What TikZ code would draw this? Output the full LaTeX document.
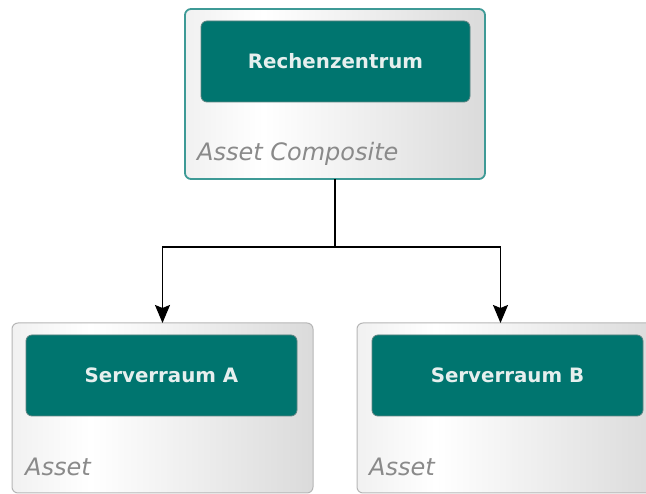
\documentclass[tikz,border=0pt]{standalone}
\usepackage{fontspec}
\setmainfont{DejaVu Sans}
\usetikzlibrary{arrows.meta}
\definecolor{tealfill}{HTML}{00756F}
\definecolor{tealline}{HTML}{3E9A96}
\definecolor{innerline}{HTML}{5E8482}
\definecolor{greyline}{HTML}{B6B6B6}
\definecolor{labeltext}{HTML}{8A8A8A}
\definecolor{whitetext}{HTML}{E6EFEE}
\definecolor{shL}{HTML}{D6D6D6}
\definecolor{shR}{HTML}{C2C2C2}
\pgfdeclarehorizontalshading{boxshade}{100bp}{color(0bp)=(shL); color(38bp)=(white); color(100bp)=(shR)}
\tikzset{
  outerbox/.style={rectangle, rounded corners=6pt, shading=boxshade, anchor=north west, outer sep=0pt, minimum width=300pt, minimum height=170pt, inner sep=0pt},
  innerbox/.style={rectangle, rounded corners=6pt, fill=tealfill, draw=innerline, line width=0.8pt, anchor=north west, outer sep=0pt, minimum width=270pt, minimum height=81pt, inner sep=0pt, text=whitetext, font=\fontsize{19.8}{23}\selectfont\bfseries},
  kindlabel/.style={anchor=base west, inner sep=0pt, text=labeltext, font=\fontsize{24}{28}\selectfont\itshape},
  conn/.style={line width=1.8pt, draw=black},
  arr/.style={conn, -{Stealth[length=18pt, width=15pt, inset=3pt]}}
}
\begin{document}
\begin{tikzpicture}[x=1pt,y=-1pt]
\useasboundingbox (0,0) rectangle (646,494);
% top composite
\node[outerbox, draw=tealline, line width=1.8pt] (top) at (185,9) {};
\node[innerbox, minimum width=269pt] (topin) at (201,21) {Rechenzentrum};
\node[kindlabel] (toplab) at (197,161) {Asset Composite};
% bottom left
\node[outerbox, draw=greyline, line width=1pt, minimum width=301pt] (a) at (12,323) {};
\node[innerbox, minimum width=271pt] (ain) at (26,335) {Serverraum A};
\node[kindlabel] (alab) at (25,476) {Asset};
% bottom right
\node[outerbox, draw=greyline, line width=1pt, minimum width=301pt] (b) at (357,323) {};
\node[innerbox, minimum width=271pt] (bin) at (372,335) {Serverraum B};
\node[kindlabel] (blab) at (369,476) {Asset};
% connectors
\coordinate (j) at (335,247);
\coordinate (bt) at ([xshift=-7pt]b.north);
\draw[conn] (top.south -| j) -- (j);
\draw[arr] (j) -| (a.north);
\draw[arr] (j) -| (bt);
\end{tikzpicture}
\end{document}
